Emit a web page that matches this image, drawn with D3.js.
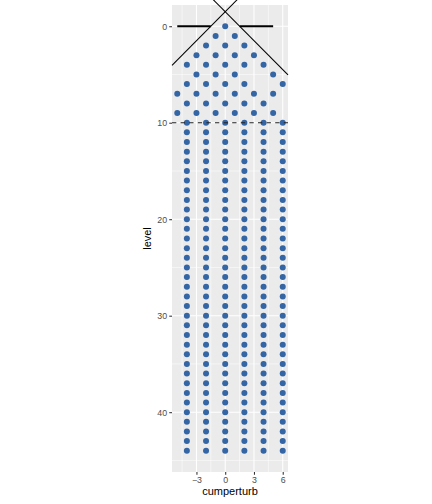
<!DOCTYPE html>
<html>
<head>
<meta charset="utf-8">
<script src="https://cdn.jsdelivr.net/npm/d3@7"></script>
<style>
  html, body { margin: 0; padding: 0; background: #fff; }
  svg { display: block; font-family: "Liberation Sans", Arial, sans-serif; }
</style>
</head>
<body>
<svg id="chart" width="432" height="504"></svg>
<script>
// ---- data ----
// triangle part: level -> x positions (cumperturb)
const triangleLevels = [0, 1, 2, 3, 4, 5, 6, 7, 8, 9, 10];
const trianglePositions = [
  [0],
  [-1, 1],
  [-2, 0, 2],
  [-3, -1, 1, 3],
  [-4, -2, 0, 2, 4],
  [-3, -1, 1, 5],
  [-4, -2, 0, 2, 6],
  [-5, -3, -1, 1, 3, 5],
  [-4, -2, 0, 2, 4],
  [-5, -3, -1, 1, 3, 5],
  [-4, -2, 0, 2, 4, 6]
];
// column part: every level below 10 has points at these positions
const columnLevels = [11, 12, 13, 14, 15, 16, 17, 18, 19, 20, 21, 22, 23, 24, 25, 26, 27,
                      28, 29, 30, 31, 32, 33, 34, 35, 36, 37, 38, 39, 40, 41, 42, 43, 44];
const columnPositions = [-4, -2, 0, 2, 4, 6];

const xTicks = [-3, 0, 3, 6];
const xMinor = [-4.5, -1.5, 1.5, 4.5];
const yTicks = [0, 10, 20, 30, 40];
const yMinor = [5, 15, 25, 35, 45];

// reference lines
const hSegments = [[-5, -1.5], [1.5, 5]];   // at level 0
const hSegmentLevel = 0;
const dashedLevel = 10;
const diagLines = [
  { x1: -5.55, y1: 4.05, x2: 1.25, y2: -2.75 },
  { x1: -1.25, y1: -2.75, x2: 6.55, y2: 5.05 }
];

// ---- build point table ----
const points = [];
triangleLevels.forEach((lv, i) => trianglePositions[i].forEach(x => points.push({ x, level: lv })));
columnLevels.forEach(lv => columnPositions.forEach(x => points.push({ x, level: lv })));

// ---- layout ----
const panel = { left: 172, right: 288, top: 5, bottom: 472 };
const svg = d3.select("#chart");

const x = d3.scaleLinear().domain([-5.55, 6.55]).range([panel.left, panel.right]);
const y = d3.scaleLinear().domain([-2.2, 46.2]).range([panel.top, panel.bottom]);

svg.append("rect")
  .attr("x", panel.left).attr("y", panel.top)
  .attr("width", panel.right - panel.left).attr("height", panel.bottom - panel.top)
  .attr("fill", "#EBEBEB");

const grid = svg.append("g");
grid.selectAll(".vminor").data(xMinor).enter().append("line")
  .attr("x1", d => x(d)).attr("x2", d => x(d))
  .attr("y1", panel.top).attr("y2", panel.bottom)
  .attr("stroke", "#fff").attr("stroke-width", 0.53);
grid.selectAll(".hminor").data(yMinor).enter().append("line")
  .attr("y1", d => y(d)).attr("y2", d => y(d))
  .attr("x1", panel.left).attr("x2", panel.right)
  .attr("stroke", "#fff").attr("stroke-width", 0.53);
grid.selectAll(".vmajor").data(xTicks).enter().append("line")
  .attr("x1", d => x(d)).attr("x2", d => x(d))
  .attr("y1", panel.top).attr("y2", panel.bottom)
  .attr("stroke", "#fff").attr("stroke-width", 1.07);
grid.selectAll(".hmajor").data(yTicks).enter().append("line")
  .attr("y1", d => y(d)).attr("y2", d => y(d))
  .attr("x1", panel.left).attr("x2", panel.right)
  .attr("stroke", "#fff").attr("stroke-width", 1.07);

// horizontal thick segments at level 0
svg.append("g").selectAll("line").data(hSegments).enter().append("line")
  .attr("x1", d => x(d[0])).attr("x2", d => x(d[1]))
  .attr("y1", y(hSegmentLevel)).attr("y2", y(hSegmentLevel))
  .attr("stroke", "#000").attr("stroke-width", 2.1);

// diagonal lines
svg.append("g").selectAll("line").data(diagLines).enter().append("line")
  .attr("x1", d => x(d.x1)).attr("y1", d => y(d.y1))
  .attr("x2", d => x(d.x2)).attr("y2", d => y(d.y2))
  .attr("stroke", "#000").attr("stroke-width", 1.07);

// points
svg.append("g").selectAll("circle").data(points).enter().append("circle")
  .attr("cx", d => x(d.x)).attr("cy", d => y(d.level))
  .attr("r", 3)
  .attr("fill", "#3465A4");

// dashed line at level 10
svg.append("line")
  .attr("x1", panel.left).attr("x2", panel.right)
  .attr("y1", y(dashedLevel)).attr("y2", y(dashedLevel))
  .attr("stroke", "#222").attr("stroke-width", 1.07)
  .attr("stroke-dasharray", "4.3,4.3");

// axes
const xAxis = d3.axisBottom(x).tickValues(xTicks).tickSize(2.75).tickPadding(2.2).tickFormat(d3.format("d"));
const gx = svg.append("g").attr("transform", `translate(0,${panel.bottom})`).call(xAxis);
gx.select(".domain").remove();
gx.selectAll(".tick line").attr("stroke", "#333").attr("stroke-width", 1.07);
gx.selectAll(".tick text").attr("fill", "#4D4D4D").attr("font-size", 8.8)
  .attr("font-family", "Liberation Sans, Arial, sans-serif");

const yAxis = d3.axisLeft(y).tickValues(yTicks).tickSize(2.75).tickPadding(2.2).tickFormat(d3.format("d"));
const gy = svg.append("g").attr("transform", `translate(${panel.left},0)`).call(yAxis);
gy.select(".domain").remove();
gy.selectAll(".tick line").attr("stroke", "#333").attr("stroke-width", 1.07);
gy.selectAll(".tick text").attr("fill", "#4D4D4D").attr("font-size", 8.8)
  .attr("font-family", "Liberation Sans, Arial, sans-serif");

// axis titles
svg.append("text")
  .attr("x", (panel.left + panel.right) / 2).attr("y", 495)
  .attr("text-anchor", "middle").attr("font-size", 11).attr("fill", "#000")
  .text("cumperturb");
svg.append("text")
  .attr("transform", `translate(151,${(panel.top + panel.bottom) / 2}) rotate(-90)`)
  .attr("text-anchor", "middle").attr("font-size", 11).attr("fill", "#000")
  .text("level");
</script>
</body>
</html>
